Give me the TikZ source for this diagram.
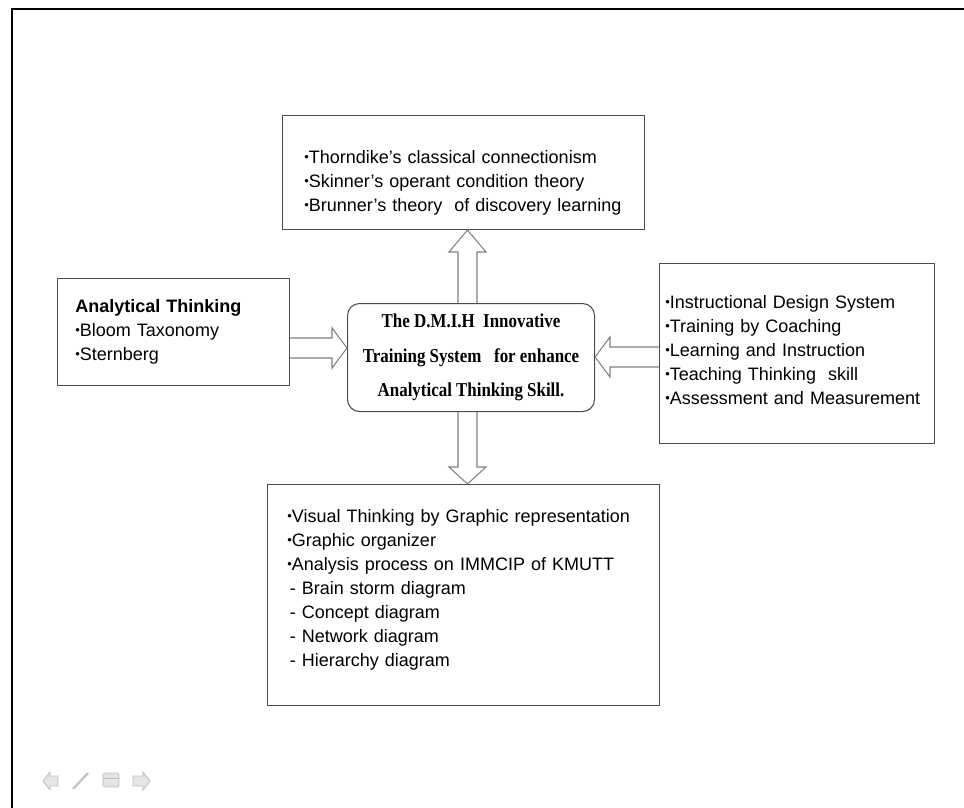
\documentclass[tikz,border=0pt]{standalone}
\usepackage{fontspec}
\setmainfont{Liberation Sans}
\newfontfamily\ctrfont[FakeStretch=0.86]{Liberation Serif}
\newcommand\bul{\raisebox{0.1em}{\scalebox{0.72}{•}}}
\begin{document}
\begin{tikzpicture}[x=0.02cm,y=-0.02cm,
  box/.style={draw=black!70,line width=0.6pt,inner sep=0pt,anchor=north west},
  txt/.style={inner sep=0pt,anchor=base west,align=left,font=\fontsize{10.25}{13.7}\selectfont},
  fatarrow/.style={draw=black!50,line width=0.6pt},
  navicon/.style={draw=black!25,fill=black!10,line width=0.5pt}]
\useasboundingbox (0,0) rectangle (964,808);
% slide frame
\draw[line width=1.2pt] (12,808) -- (12,9) -- (964,9);
% boxes
\node[box,minimum width=362*0.02cm,minimum height=114*0.02cm] (top) at (282,115) {};
\node[box,minimum width=232*0.02cm,minimum height=107*0.02cm] (left) at (57,278) {};
\node[box,minimum width=275*0.02cm,minimum height=180*0.02cm] (right) at (659,263) {};
\node[box,minimum width=392*0.02cm,minimum height=221*0.02cm] (bottom) at (267,484) {};
\node[box,rounded corners=0.24cm,minimum width=247*0.02cm,minimum height=108*0.02cm,
  align=center,font=\ctrfont\bfseries\fontsize{11.2}{19.6}\selectfont] (ctr) at (347,303)
  {The D.M.I.H\ \ Innovative\\Training System\ \ \ for enhance\\Analytical Thinking Skill.};
% texts
\node[txt,text width=340*0.02cm] (topTxt) at (304,163) {\bul Thorndike’s classical connectionism\\
  \bul Skinner’s operant condition theory\\
  \bul Brunner’s theory\ \ of discovery learning};
\node[txt,text width=210*0.02cm] (leftTxt) at (75,312) {\textbf{Analytical Thinking}\\
  \bul Bloom Taxonomy\\
  \bul Sternberg};
\node[txt,text width=290*0.02cm] (rightTxt) at (665,308) {\bul Instructional Design System\\
  \bul Training by Coaching\\
  \bul Learning and Instruction\\
  \bul Teaching Thinking\ \ skill\\
  \bul Assessment and Measurement};
\node[txt,text width=380*0.02cm] (bottomTxt) at (287,522) {\bul Visual Thinking by Graphic representation\\
  \bul Graphic organizer\\
  \bul Analysis process on IMMCIP of KMUTT\\
  \hspace{0.05cm}- Brain storm diagram\\
  \hspace{0.05cm}- Concept diagram\\
  \hspace{0.05cm}- Network diagram\\
  \hspace{0.05cm}- Hierarchy diagram};
% block arrows
\draw[fatarrow] (458,0 |- ctr.north) -- (458,252) -- (449,252) -- (467.5,0 |- top.south)
  -- (486,252) -- (477,252) -- (477,0 |- ctr.north);
\draw[fatarrow] (458,0 |- ctr.south) -- (458,467) -- (449,467) -- (467.5,0 |- bottom.north)
  -- (486,467) -- (477,467) -- (477,0 |- ctr.south);
\draw[fatarrow] (left.east |- 0,338) -- (332,338) -- (332,328) -- (ctr.west |- 0,348)
  -- (332,368) -- (332,358) -- (left.east |- 0,358);
\draw[fatarrow] (right.west |- 0,347) -- (610,347) -- (610,337) -- (ctr.east |- 0,357)
  -- (610,377) -- (610,367) -- (right.west |- 0,367);
% slide navigation
\draw[navicon] (43,781) -- (50,772) -- (50,776) -- (58,776) -- (58,786) -- (50,786) -- (50,790) -- cycle;
\draw[black!25,line width=1.2pt] (73,789) -- (88,773);
\draw[navicon,rounded corners=1pt] (103,773) rectangle (119,787);
\draw[black!25,line width=0.5pt] (103,778) -- (119,778);
\draw[navicon] (150,781) -- (143,772) -- (143,776) -- (133,776) -- (133,786) -- (143,786) -- (143,790) -- cycle;
\end{tikzpicture}
\end{document}
